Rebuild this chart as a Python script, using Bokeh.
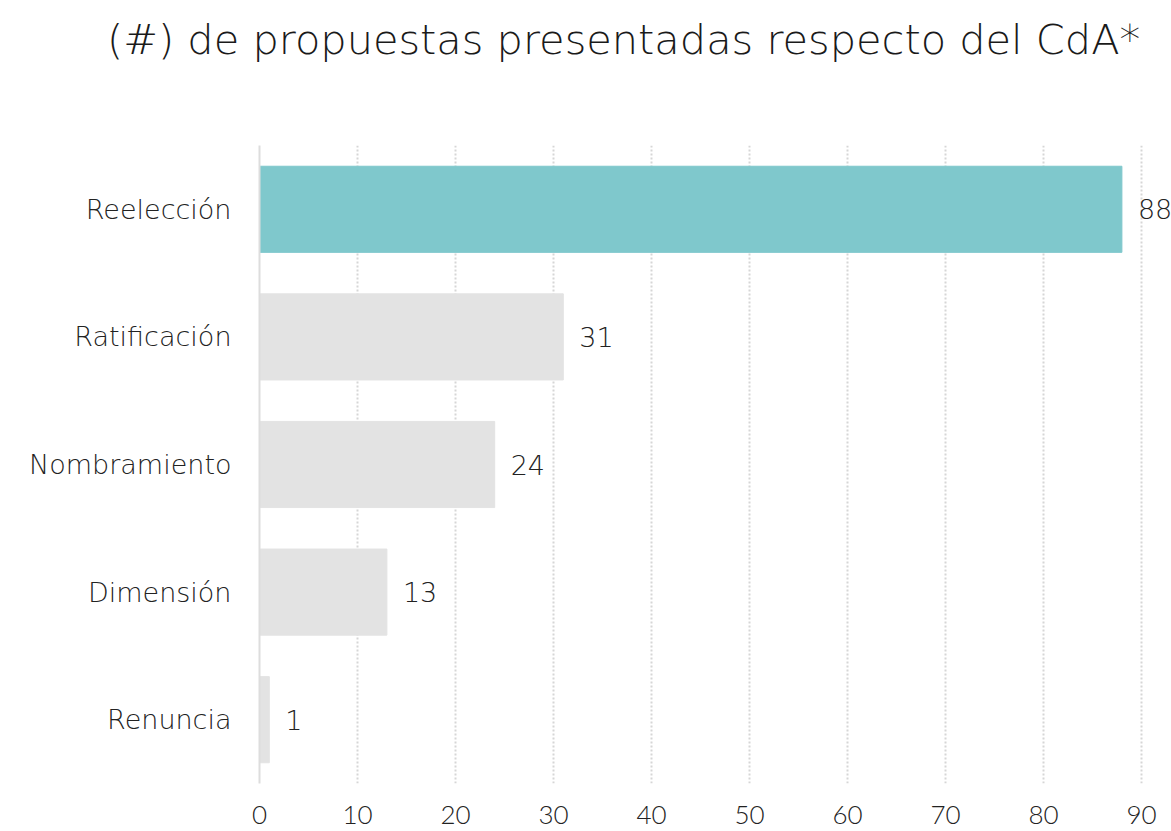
from bokeh.plotting import figure
from bokeh.models import ColumnDataSource, LabelSet, FixedTicker, Range1d, FactorRange, Div
from bokeh.layouts import column
from bokeh.core.properties import value
from bokeh.embed import file_html
from bokeh.resources import INLINE

categories = ["Reelección", "Ratificación", "Nombramiento", "Dimensión", "Renuncia"]
values = [88, 31, 24, 13, 1]
colors = ["#7FC8CC", "#E3E3E3", "#E3E3E3", "#E3E3E3", "#E3E3E3"]
x_ticks = [0, 10, 20, 30, 40, 50, 60, 70, 80, 90]
title_text = "(#) de propuestas presentadas respecto del CdA*"

FONT = "DejaVu Sans Light"
TICK_FONT = "Lato Light"

src = ColumnDataSource(dict(cat=categories, val=values, color=colors,
                            lab=[str(v) for v in values]))

W, H = 1171, 831
DIV_H = 100
FL, FT, FR, FB = 259, 145, 1171, 783
x_end = 90 * (FR - FL) / (1141 - FL)

title = Div(
    text=('<div style="margin:0;padding:15px 0 0 107px;font-family:\'DejaVu Sans Light\';'
          'font-size:41.5px;line-height:normal;color:#1a1a1a;white-space:nowrap;">'
          + title_text + '</div>'),
    width=W, height=DIV_H, margin=(0, 0, 0, 0))

p = figure(width=W, height=H - DIV_H, output_backend="svg", toolbar_location=None,
           y_range=FactorRange(*categories[::-1]), x_range=Range1d(0, x_end),
           min_border_left=FL, min_border_right=W - FR, min_border_top=FT - DIV_H,
           min_border_bottom=H - FB, margin=(0, 0, 0, 0))

p.hbar(y="cat", right="val", left=0, height=0.675, color="color", source=src)

labels = LabelSet(x="val", y="cat", text="lab", source=src, x_offset=16,
                  text_baseline="middle", text_align="left",
                  text_font=value(FONT), text_font_size="27px", text_color="#222222")
p.add_layout(labels)

p.outline_line_color = None
p.ygrid.grid_line_color = None
p.xgrid.ticker = FixedTicker(ticks=x_ticks)
p.xgrid.grid_line_color = "#D6D6D6"
p.xgrid.grid_line_dash = "2 2"
p.xgrid.grid_line_width = 2

p.xaxis.ticker = FixedTicker(ticks=x_ticks)
p.xaxis.axis_line_color = None
p.xaxis.major_tick_line_color = None
p.xaxis.minor_tick_line_color = None
p.xaxis.major_label_text_font = TICK_FONT
p.xaxis.major_label_text_font_size = "26px"
p.xaxis.major_label_text_color = "#222222"
p.xaxis.major_label_standoff = 16

p.yaxis.axis_line_color = "#DDDDDD"
p.yaxis.axis_line_width = 2
p.yaxis.major_tick_line_color = None
p.yaxis.minor_tick_line_color = None
p.yaxis.major_label_text_font = FONT
p.yaxis.major_label_text_font_size = "27px"
p.yaxis.major_label_text_color = "#222222"
p.yaxis.major_label_standoff = 22

layout = column(title, p, spacing=0, margin=(0, 0, 0, 0))

open("out.html", "w").write(file_html(layout, INLINE))
